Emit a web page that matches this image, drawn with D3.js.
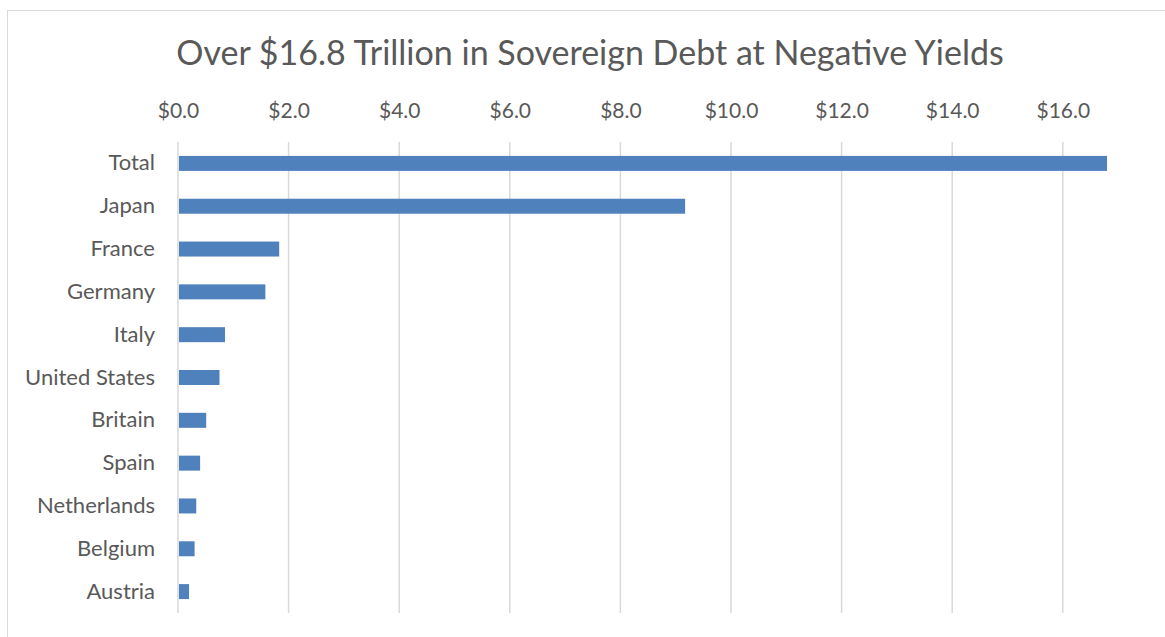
<!DOCTYPE html>
<html>
<head>
<meta charset="utf-8">
<script src="https://cdn.jsdelivr.net/npm/d3@7"></script>
<style>
  body { margin: 0; background: #fff; }
  svg { display: block; font-family: Lato, 'Open Sans', sans-serif; }
</style>
</head>
<body>
<svg id="chart" width="1165" height="637"></svg>
<script>
const TITLE = 'Over $16.8 Trillion in Sovereign Debt at Negative Yields';
const categories = ['Total', 'Japan', 'France', 'Germany', 'Italy', 'United States',
  'Britain', 'Spain', 'Netherlands', 'Belgium', 'Austria'];
const values = [16.8, 9.17, 1.83, 1.58, 0.85, 0.75, 0.51, 0.40, 0.33, 0.30, 0.20];
const tickValues = [0, 2, 4, 6, 8, 10, 12, 14, 16];

const MARGIN = { top: 142, left: 178, bottom: 613 };
const TEXT = '#595959';

const svg = d3.select('#chart');

// chart frame (runs off the right and bottom of the picture)
svg.append('rect')
  .attr('x', 7.5).attr('y', 10.5)
  .attr('width', 1200).attr('height', 700)
  .attr('fill', 'none')
  .attr('stroke', '#d9d9d9')
  .attr('stroke-width', 1);

const x = d3.scaleLinear()
  .domain([0, 18])
  .range([MARGIN.left, MARGIN.left + 18 * 55.3]);

const y = d3.scaleBand()
  .domain(categories)
  .range([MARGIN.top, MARGIN.bottom])
  .paddingInner(0.65)
  .paddingOuter(0.325);

svg.append('text')
  .attr('x', 590)
  .attr('y', 65)
  .attr('text-anchor', 'middle')
  .attr('fill', TEXT)
  .style('font-size', '34px')
  .text(TITLE);

// gridlines
svg.append('g')
  .selectAll('line')
  .data(tickValues)
  .join('line')
  .attr('x1', (d) => x(d)).attr('x2', (d) => x(d))
  .attr('y1', MARGIN.top).attr('y2', MARGIN.bottom)
  .attr('stroke', '#d9d9d9')
  .attr('stroke-width', 1.5);

// top axis
const xAxis = svg.append('g')
  .attr('transform', `translate(0, ${MARGIN.top})`)
  .call(d3.axisTop(x).tickValues(tickValues).tickSize(0).tickPadding(24)
    .tickFormat((d) => '$' + d3.format('.1f')(d)));
xAxis.select('.domain').remove();
xAxis.selectAll('text')
  .attr('fill', TEXT)
  .style('font-size', '21px')
  .style('font-family', 'Lato, sans-serif');

// left axis
const yAxis = svg.append('g')
  .attr('transform', `translate(${MARGIN.left}, 0)`)
  .call(d3.axisLeft(y).tickSize(0).tickPadding(23));
yAxis.select('.domain').remove();
yAxis.selectAll('text')
  .attr('fill', TEXT)
  .style('font-size', '22px')
  .style('font-family', 'Lato, sans-serif');

// bars
svg.append('g')
  .attr('fill', '#4f81bd')
  .selectAll('rect')
  .data(values)
  .join('rect')
  .attr('x', x(0) + 1)
  .attr('y', (d, i) => y(categories[i]))
  .attr('width', (d) => x(d) - x(0) - 1)
  .attr('height', y.bandwidth());
</script>
</body>
</html>
